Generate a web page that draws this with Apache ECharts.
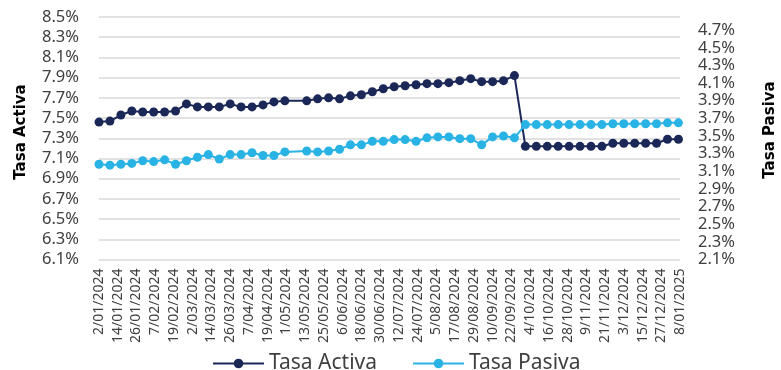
<!DOCTYPE html>
<html>
<head>
<meta charset="utf-8">
<script src="https://cdn.jsdelivr.net/npm/echarts@6/dist/echarts.min.js"></script>
<style>html,body{margin:0;padding:0;background:#fff;}#c{width:781px;height:370px;}</style>
</head>
<body>
<div id="c"></div>
<script>
// x-axis tick labels (every 12 days from 2/01/2024)
const tickLabels = ["2/01/2024","14/01/2024","26/01/2024","7/02/2024","19/02/2024","2/03/2024","14/03/2024","26/03/2024","7/04/2024","19/04/2024","1/05/2024","13/05/2024","25/05/2024","6/06/2024","18/06/2024","30/06/2024","12/07/2024","24/07/2024","5/08/2024","17/08/2024","29/08/2024","10/09/2024","22/09/2024","4/10/2024","16/10/2024","28/10/2024","9/11/2024","21/11/2024","3/12/2024","15/12/2024","27/12/2024","8/01/2025"];
const axisStart = "2024-01-02";
// observation dates
const dates = ["2024-01-02","2024-01-09","2024-01-16","2024-01-23","2024-01-30","2024-02-06","2024-02-13","2024-02-20","2024-02-27","2024-03-05","2024-03-12","2024-03-19","2024-03-26","2024-04-02","2024-04-09","2024-04-16","2024-04-23","2024-04-30","2024-05-14","2024-05-21","2024-05-28","2024-06-04","2024-06-11","2024-06-18","2024-06-25","2024-07-02","2024-07-09","2024-07-16","2024-07-23","2024-07-30","2024-08-06","2024-08-13","2024-08-20","2024-08-27","2024-09-03","2024-09-10","2024-09-17","2024-09-24","2024-10-01","2024-10-08","2024-10-15","2024-10-22","2024-10-29","2024-11-05","2024-11-12","2024-11-19","2024-11-26","2024-12-03","2024-12-10","2024-12-17","2024-12-24","2024-12-31","2025-01-07"];
const tasaActiva = [7.46,7.47,7.53,7.57,7.56,7.56,7.56,7.57,7.64,7.61,7.61,7.61,7.64,7.61,7.61,7.63,7.66,7.67,7.67,7.69,7.70,7.69,7.72,7.73,7.76,7.79,7.81,7.82,7.83,7.84,7.84,7.85,7.87,7.89,7.86,7.86,7.87,7.92,7.22,7.22,7.22,7.22,7.22,7.22,7.22,7.22,7.25,7.25,7.25,7.25,7.25,7.29,7.29];
const tasaPasiva = [3.18,3.17,3.18,3.19,3.22,3.21,3.23,3.18,3.22,3.26,3.29,3.24,3.29,3.29,3.31,3.28,3.28,3.32,3.33,3.32,3.33,3.35,3.40,3.40,3.44,3.44,3.46,3.46,3.44,3.48,3.49,3.49,3.47,3.47,3.40,3.49,3.50,3.48,3.63,3.63,3.63,3.63,3.63,3.63,3.63,3.63,3.64,3.64,3.64,3.64,3.64,3.65,3.65];

const DAY = 86400000;
const t0 = Date.parse(axisStart + "T00:00:00Z");
const dayIdx = dates.map(d => Math.round((Date.parse(d + "T00:00:00Z") - t0) / DAY));
const activaData = dayIdx.map((x, i) => [x, tasaActiva[i]]);
const pasivaData = dayIdx.map((x, i) => [x, tasaPasiva[i]]);

const navy = '#1B2857';
const sky = '#29B3E5';
const labelFont = 'Noto Sans';

const chart = echarts.init(document.getElementById('c'), null, {renderer: 'canvas'});
chart.setOption({
  animation: false,
  backgroundColor: '#fff',
  grid: {left: 99, right: 101, top: 17, bottom: 110.5, containLabel: false},
  xAxis: {
    type: 'value', min: 0, max: 372, interval: 12,
    axisLine: {show: false}, axisTick: {show: false}, splitLine: {show: false},
    axisLabel: {rotate: 90, margin: 9, fontFamily: labelFont, fontSize: 14, color: '#404040',
      formatter: v => tickLabels[Math.round(v / 12)] || ''}
  },
  yAxis: [{
    type: 'value', min: 6.1, max: 8.5, interval: 0.2, position: 'left',
    axisLine: {show: false}, axisTick: {show: false},
    splitLine: {show: true, lineStyle: {color: '#D9D9D9', width: 1.5}},
    axisLabel: {margin: 20, fontFamily: labelFont, fontSize: 16.5, color: '#404040', formatter: v => v.toFixed(1) + '%'}
  }, {
    type: 'value', min: 2.1, max: 4.85, interval: 0.2, position: 'right',
    axisLine: {show: false}, axisTick: {show: false}, splitLine: {show: false},
    axisLabel: {margin: 18, showMaxLabel: false, fontFamily: labelFont, fontSize: 16.5, color: '#404040', formatter: v => v.toFixed(1) + '%'}
  }],
  legend: {
    left: 207, top: 348, itemWidth: 51, itemHeight: 12, itemGap: 35,
    textStyle: {fontFamily: labelFont, fontSize: 21, color: '#404040'},
    data: ['Tasa Activa', 'Tasa Pasiva']
  },
  graphic: [
    {type: 'text', x: 21, y: 132, rotation: Math.PI / 2,
     style: {text: 'Tasa Activa', font: 'bold 15px "DejaVu Sans"', fill: '#000', align: 'center', verticalAlign: 'middle'}},
    {type: 'text', x: 770, y: 130, rotation: Math.PI / 2,
     style: {text: 'Tasa Pasiva', font: 'bold 15px "DejaVu Sans"', fill: '#000', align: 'center', verticalAlign: 'middle'}}
  ],
  series: [{
    name: 'Tasa Activa', type: 'line', yAxisIndex: 0, data: activaData,
    symbol: 'circle', symbolSize: 9, itemStyle: {color: navy}, lineStyle: {color: navy, width: 2}
  }, {
    name: 'Tasa Pasiva', type: 'line', yAxisIndex: 1, data: pasivaData,
    symbol: 'circle', symbolSize: 9, itemStyle: {color: sky}, lineStyle: {color: sky, width: 2}
  }]
});
</script>
</body>
</html>
